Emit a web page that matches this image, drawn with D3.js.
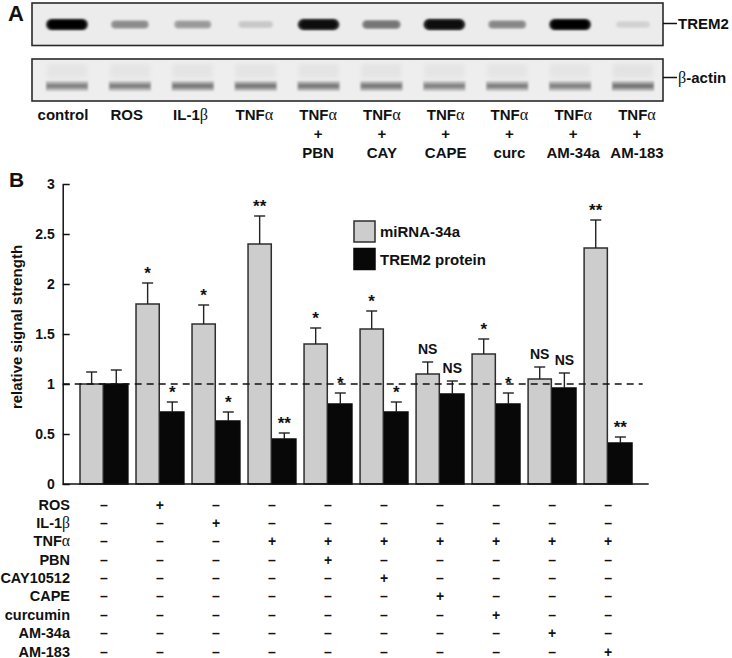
<!DOCTYPE html>
<html>
<head>
<meta charset="utf-8">
<script src="https://cdn.jsdelivr.net/npm/d3@7"></script>
<style>
  html, body { margin: 0; padding: 0; background: #fff; }
  svg { display: block; }
  text { font-family: "Liberation Sans", Arial, sans-serif; font-weight: bold; fill: #111; }
</style>
</head>
<body>
<svg id="chart" width="732" height="658"></svg>
<script>
// ---------------- DATA ----------------
const lanes = ["control", "ROS", "IL-1β", "TNFα", "TNFα+PBN", "TNFα+CAY", "TNFα+CAPE", "TNFα+curc", "TNFα+AM-34a", "TNFα+AM-183"];
const laneLabels = [["control"], ["ROS"], ["IL-1β"], ["TNFα"], ["TNFα", "+", "PBN"], ["TNFα", "+", "CAY"],
                    ["TNFα", "+", "CAPE"], ["TNFα", "+", "curc"], ["TNFα", "+", "AM-34a"], ["TNFα", "+", "AM-183"]];
const trem2BandDensity = [1.00, 0.42, 0.36, 0.16, 0.96, 0.52, 0.98, 0.44, 1.00, 0.12];
const actinBandDensity = [0.55, 0.56, 0.60, 0.60, 0.60, 0.60, 0.55, 0.56, 0.55, 0.62];
const blotLabels = ["TREM2", "β-actin"];

const groups = ["control", "ROS", "IL-1β", "TNFα", "TNFα+PBN", "TNFα+CAY10512", "TNFα+CAPE", "TNFα+curcumin", "TNFα+AM-34a", "TNFα+AM-183"];
const series = ["miRNA-34a", "TREM2 protein"];
const mirna34a    = [1.00, 1.80, 1.60, 2.40, 1.40, 1.55, 1.10, 1.30, 1.05, 2.36];
const mirna34aErr = [0.12, 0.21, 0.19, 0.28, 0.16, 0.18, 0.12, 0.15, 0.12, 0.28];
const mirna34aSig = ["", "*", "*", "**", "*", "*", "NS", "*", "NS", "**"];
const trem2       = [1.00, 0.72, 0.63, 0.45, 0.80, 0.72, 0.90, 0.80, 0.96, 0.41];
const trem2Err    = [0.14, 0.10, 0.09, 0.06, 0.11, 0.10, 0.13, 0.11, 0.15, 0.06];
const trem2Sig    = ["", "*", "*", "**", "*", "*", "NS", "*", "NS", "**"];
const yTicks = [0, 0.5, 1, 1.5, 2, 2.5, 3];
const yLabel = "relative signal strength";

const treatments = ["ROS", "IL-1β", "TNFα", "PBN", "CAY10512", "CAPE", "curcumin", "AM-34a", "AM-183"];
const treatmentMatrix = [
  [0, 1, 0, 0, 0, 0, 0, 0, 0, 0],
  [0, 0, 1, 0, 0, 0, 0, 0, 0, 0],
  [0, 0, 0, 1, 1, 1, 1, 1, 1, 1],
  [0, 0, 0, 0, 1, 0, 0, 0, 0, 0],
  [0, 0, 0, 0, 0, 1, 0, 0, 0, 0],
  [0, 0, 0, 0, 0, 0, 1, 0, 0, 0],
  [0, 0, 0, 0, 0, 0, 0, 1, 0, 0],
  [0, 0, 0, 0, 0, 0, 0, 0, 1, 0],
  [0, 0, 0, 0, 0, 0, 0, 0, 0, 1]
];

// ---------------- HELPERS ----------------
const svg = d3.select("#chart");
const greek = /([αβ])/;
function richText(sel, str) {
  str.split(greek).filter(s => s.length).forEach(seg => {
    const t = sel.append("tspan").text(seg);
    if (greek.test(seg)) t.style("font-family", "'Liberation Serif', 'Times New Roman', serif").style("font-weight", "normal").style("font-size", "1.08em");
  });
}

// ---------------- PANEL A: blots ----------------
const defs = svg.append("defs");
defs.append("filter").attr("id", "blur1").attr("x", "-20%").attr("y", "-80%").attr("width", "140%").attr("height", "260%")
  .append("feGaussianBlur").attr("stdDeviation", 1.1);
defs.append("filter").attr("id", "blur2").attr("x", "-30%").attr("y", "-100%").attr("width", "160%").attr("height", "300%")
  .append("feGaussianBlur").attr("stdDeviation", 2.2);

const gelX = 32, gelW = 631;
const gel1 = {y: 3, h: 42.5, bg: "#ececec"};
const gel2 = {y: 59, h: 42, bg: "#eeeeee"};
const laneX = d3.scalePoint().domain(lanes).range([67, 633]);
const labelX = d3.scalePoint().domain(lanes).range([63, 637]);
const shade1 = d3.interpolateRgb(gel1.bg, "#050505");
const shade2 = d3.interpolateRgb(gel2.bg, "#1a1a1a");

[gel1, gel2].forEach(g => {
  svg.append("rect").attr("x", gelX).attr("y", g.y).attr("width", gelW).attr("height", g.h)
    .attr("fill", g.bg);
});

// TREM2 bands
const bandTop = svg.append("g");
bandTop.selectAll("rect.halo").data(lanes).join("rect")
  .attr("class", "halo")
  .attr("x", (d, i) => laneX(d) - (30 + 12 * Math.sqrt(trem2BandDensity[i])) / 2)
  .attr("width", (d, i) => 30 + 12 * Math.sqrt(trem2BandDensity[i]))
  .attr("y", (d, i) => 24.5 - (6 + 5 * trem2BandDensity[i]) / 2)
  .attr("height", (d, i) => 6 + 5 * trem2BandDensity[i])
  .attr("rx", (d, i) => (6 + 5 * trem2BandDensity[i]) / 2)
  .attr("fill", (d, i) => shade1(Math.min(1, trem2BandDensity[i] * 0.75)))
  .attr("filter", "url(#blur1)");
bandTop.selectAll("rect.core").data(lanes).join("rect")
  .attr("class", "core")
  .attr("x", (d, i) => laneX(d) - (26 + 12 * Math.sqrt(trem2BandDensity[i])) / 2)
  .attr("width", (d, i) => 26 + 12 * Math.sqrt(trem2BandDensity[i]))
  .attr("y", (d, i) => 24.5 - (3 + 6 * trem2BandDensity[i]) / 2)
  .attr("height", (d, i) => 3 + 6 * trem2BandDensity[i])
  .attr("rx", (d, i) => (3 + 6 * trem2BandDensity[i]) / 2)
  .attr("fill", (d, i) => shade1(trem2BandDensity[i]))
  .attr("filter", "url(#blur1)");

// beta-actin bands
const bandBot = svg.append("g");
bandBot.selectAll("rect.smear").data(lanes).join("rect")
  .attr("class", "smear")
  .attr("x", d => laneX(d) - 20).attr("width", 40)
  .attr("y", 64).attr("height", 14)
  .attr("fill", (d, i) => shade2(actinBandDensity[i] * 0.08))
  .attr("filter", "url(#blur2)");
bandBot.selectAll("rect.halo").data(lanes).join("rect")
  .attr("class", "halo")
  .attr("x", d => laneX(d) - 21).attr("width", 42)
  .attr("y", 81.5).attr("height", 9)
  .attr("fill", (d, i) => shade2(actinBandDensity[i] * 0.55))
  .attr("filter", "url(#blur1)");
bandBot.selectAll("rect.core").data(lanes).join("rect")
  .attr("class", "core")
  .attr("x", d => laneX(d) - 20).attr("width", 40)
  .attr("y", 84.5).attr("height", 3)
  .attr("fill", (d, i) => shade2(actinBandDensity[i]))
  .attr("filter", "url(#blur1)");

[gel1, gel2].forEach(g => {
  svg.append("rect").attr("x", gelX).attr("y", g.y).attr("width", gelW).attr("height", g.h)
    .attr("fill", "none").attr("stroke", "#2a2a2a").attr("stroke-width", 1.6);
});

// blot labels
[{g: gel1, ly: 23.5, by: 29}, {g: gel2, ly: 77.5, by: 83}].forEach((o, i) => {
  svg.append("line").attr("x1", gelX + gelW).attr("x2", gelX + gelW + 14)
    .attr("y1", o.ly).attr("y2", o.ly).attr("stroke", "#111").attr("stroke-width", 1.5);
  const t = svg.append("text").attr("x", gelX + gelW + 15).attr("y", o.by).style("font-size", "15px");
  richText(t, blotLabels[i]);
});

// lane labels
const laneG = svg.append("g");
laneLabels.forEach((lines, i) => {
  lines.forEach((ln, j) => {
    const t = laneG.append("text").attr("x", labelX(lanes[i])).attr("y", 120 + j * 19)
      .attr("text-anchor", "middle").style("font-size", "15px");
    richText(t, ln);
  });
});

svg.append("text").attr("x", 8).attr("y", 21).style("font-size", "22px").text("A");
svg.append("text").attr("x", 9).attr("y", 187).style("font-size", "21px").text("B");

// ---------------- PANEL B: bars ----------------
const y = d3.scaleLinear().domain([0, 3]).range([484, 184]);
const x = d3.scaleBand().domain(groups).range([79.3, 632.7]).paddingInner(0.12).paddingOuter(0);
const xs = d3.scaleBand().domain(series).range([0, x.bandwidth()]);
const axisLeftX = 62.7, axisRightX = 648.7;

const seriesData = [
  {name: series[0], vals: mirna34a, err: mirna34aErr, sig: mirna34aSig, fill: "#cdcdcd", stroke: "#2e2e2e"},
  {name: series[1], vals: trem2, err: trem2Err, sig: trem2Sig, fill: "#080808", stroke: "#080808"}
];

const barsG = svg.append("g");
seriesData.forEach(s => {
  const pts = groups.map((g, i) => ({g, v: s.vals[i], e: s.err[i], sig: s.sig[i]}));
  const gs = barsG.append("g");
  gs.selectAll("rect").data(pts).join("rect")
    .attr("x", d => x(d.g) + xs(s.name) + 0.7)
    .attr("width", xs.bandwidth() - 1.4)
    .attr("y", d => y(d.v))
    .attr("height", d => y(0) - y(d.v))
    .attr("fill", s.fill).attr("stroke", s.stroke).attr("stroke-width", 1.5);
  const cx = d => x(d.g) + xs(s.name) + xs.bandwidth() / 2;
  gs.selectAll("line.err").data(pts).join("line").attr("class", "err")
    .attr("x1", cx).attr("x2", cx)
    .attr("y1", d => y(d.v)).attr("y2", d => y(d.v + d.e))
    .attr("stroke", "#222").attr("stroke-width", 1.4);
  gs.selectAll("line.cap").data(pts).join("line").attr("class", "cap")
    .attr("x1", d => cx(d) - 5.5).attr("x2", d => cx(d) + 5.5)
    .attr("y1", d => y(d.v + d.e)).attr("y2", d => y(d.v + d.e))
    .attr("stroke", "#222").attr("stroke-width", 1.4);
  gs.selectAll("text.sig").data(pts.filter(d => d.sig)).join("text").attr("class", "sig")
    .attr("x", cx).attr("y", d => y(d.v + d.e) - (d.sig === "NS" ? 8 : 4))
    .attr("text-anchor", "middle").style("font-size", d => d.sig === "NS" ? "14px" : "17px")
    .text(d => d.sig);
});

// dashed reference line at 1
svg.append("line").attr("x1", axisLeftX).attr("x2", 642.7).attr("y1", y(1)).attr("y2", y(1))
  .attr("stroke", "#111").attr("stroke-width", 1.3).attr("stroke-dasharray", "7,5");

// y axis
const yAxis = d3.axisLeft(y).tickValues(yTicks).tickSizeInner(-7).tickSizeOuter(0).tickPadding(8)
  .tickFormat(d => String(d));
const yg = svg.append("g").attr("transform", `translate(${axisLeftX},0)`).call(yAxis);
yg.select(".domain").attr("stroke", "#111").attr("stroke-width", 1.5);
yg.selectAll(".tick line").attr("stroke", "#111").attr("stroke-width", 1.5);
yg.selectAll(".tick text").style("font-size", "14px").style("font-family", "'Liberation Sans', Arial, sans-serif")
  .style("font-weight", "bold").attr("fill", "#111");

// x axis baseline
svg.append("line").attr("x1", axisLeftX).attr("x2", axisRightX).attr("y1", y(0)).attr("y2", y(0))
  .attr("stroke", "#111").attr("stroke-width", 1.5);

// y label
svg.append("text").attr("transform", `translate(22,${y(1.57)}) rotate(-90)`)
  .attr("text-anchor", "middle").style("font-size", "15px").text(yLabel);

// legend
const legG = svg.append("g").attr("transform", "translate(354,221)");
seriesData.forEach((s, i) => {
  legG.append("rect").attr("x", 0).attr("y", i * 27.5).attr("width", 21).attr("height", 21)
    .attr("fill", s.fill).attr("stroke", s.stroke).attr("stroke-width", 1.5);
  legG.append("text").attr("x", 26).attr("y", i * 27.5 + 16).style("font-size", "15px").text(s.name);
});

// treatment table
const rowY = d3.scalePoint().domain(treatments).range([509.5, 656.5]);
const tableG = svg.append("g");
treatments.forEach((tr, r) => {
  const t = tableG.append("text").attr("x", 70).attr("y", rowY(tr)).attr("text-anchor", "end").style("font-size", "14.5px");
  richText(t, tr);
  groups.forEach((g, c) => {
    tableG.append("text").attr("x", x(g) + x.bandwidth() / 2).attr("y", rowY(tr))
      .attr("text-anchor", "middle").style("font-size", "14px")
      .text(treatmentMatrix[r][c] ? "+" : "–");
  });
});
</script>
</body>
</html>
